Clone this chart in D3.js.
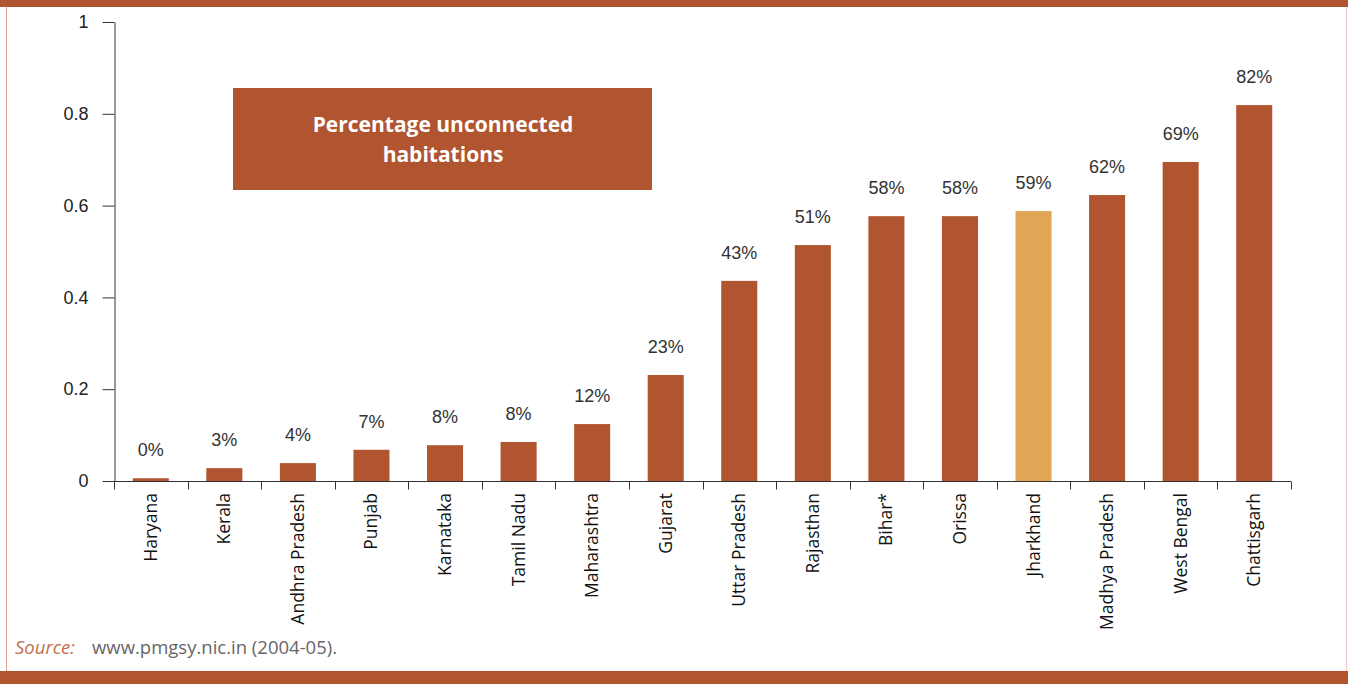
<!DOCTYPE html>
<html>
<head>
<meta charset="utf-8">
<script src="https://cdn.jsdelivr.net/npm/d3@7"></script>
<style>
  body { margin: 0; background: #fff; }
  svg { display: block; }
  .axis path, .axis line { stroke: #333; }
  .axis text { fill: #222; }
</style>
</head>
<body>
<script>
//chart data
var states = ["Haryana", "Kerala", "Andhra Pradesh", "Punjab", "Karnataka", "Tamil Nadu",
    "Maharashtra", "Gujarat", "Uttar Pradesh", "Rajasthan", "Bihar*", "Orissa",
    "Jharkhand", "Madhya Pradesh", "West Bengal", "Chattisgarh"];
var shares = [0.006, 0.028, 0.039, 0.068, 0.078, 0.085, 0.124, 0.231, 0.436, 0.514,
    0.577, 0.577, 0.588, 0.623, 0.695, 0.819];
var shareLabels = ["0%", "3%", "4%", "7%", "8%", "8%", "12%", "23%", "43%", "51%",
    "58%", "58%", "59%", "62%", "69%", "82%"];
var yTicks = [0, 0.2, 0.4, 0.6, 0.8, 1];
var highlight = "Jharkhand";

var w = 1348, h = 684;
var brown = "#B0552F", gold = "#E0A655";

var svg = d3.select("body")
    .append("svg")
    .attr("width", w)
    .attr("height", h);

//frame: top and bottom bands, thin side lines
svg.append("rect")
    .attr("x", 0).attr("y", 0)
    .attr("width", w).attr("height", 7)
    .style("fill", brown);
svg.append("rect")
    .attr("x", 0).attr("y", 671)
    .attr("width", w).attr("height", 13)
    .style("fill", brown);
svg.append("line")
    .attr("x1", 6.5).attr("x2", 6.5)
    .attr("y1", 7).attr("y2", 671)
    .style("stroke", "#E0A090");
svg.append("line")
    .attr("x1", 1346.5).attr("x2", 1346.5)
    .attr("y1", 7).attr("y2", 671)
    .style("stroke", "#F0C8C8");

//scales
var x = d3.scaleBand()
    .domain(states)
    .range([114, 1291])
    .paddingInner(0.51)
    .paddingOuter(0.255);

var y = d3.scaleLinear()
    .domain([0, 1])
    .range([481, 22]);

//y axis
var yAxis = svg.append("g")
    .attr("class", "axis")
    .attr("transform", "translate(114.5,0)")
    .call(d3.axisLeft(y).tickValues(yTicks).tickFormat(d3.format("")).tickSize(12).tickPadding(14).tickSizeOuter(0));
yAxis.selectAll("text")
    .style("font-family", "'Liberation Sans', Arial, sans-serif")
    .style("font-size", "18px");

//bars
svg.selectAll(".bar")
    .data(states)
    .enter()
    .append("rect")
    .attr("class", "bar")
    .attr("x", function(d){ return x(d); })
    .attr("width", x.bandwidth())
    .attr("y", function(d, i){ return y(shares[i]); })
    .attr("height", function(d, i){ return y(0) - y(shares[i]); })
    .style("fill", function(d){ return d === highlight ? gold : brown; });

//x axis with ticks between bands
var xAxis = svg.append("g")
    .attr("class", "axis")
    .attr("transform", "translate(0,481.5)");
xAxis.append("line")
    .attr("x1", 114).attr("x2", 1291)
    .style("stroke", "#333");
xAxis.selectAll(".xtick")
    .data(d3.range(states.length + 1))
    .enter()
    .append("line")
    .attr("class", "xtick")
    .attr("x1", function(d){ return Math.round(114 + d * (1291 - 114) / states.length) + 0.5; })
    .attr("x2", function(d){ return Math.round(114 + d * (1291 - 114) / states.length) + 0.5; })
    .attr("y1", 0).attr("y2", 8)
    .style("stroke", "#333");

//rotated category labels
svg.selectAll(".xlabel")
    .data(states)
    .enter()
    .append("text")
    .attr("class", "xlabel")
    .attr("transform", function(d){
        return "translate(" + (x(d) + x.bandwidth() / 2 + 6) + ",493) rotate(-90)";
    })
    .attr("text-anchor", "end")
    .style("font-family", "'Open Sans', sans-serif")
    .style("font-size", "17.5px")
    .style("fill", "#111")
    .text(function(d){ return d; });

//value labels
svg.selectAll(".vlabel")
    .data(states)
    .enter()
    .append("text")
    .attr("class", "vlabel")
    .attr("x", function(d){ return x(d) + x.bandwidth() / 2; })
    .attr("y", function(d, i){ return y(shares[i]) - 22; })
    .attr("text-anchor", "middle")
    .style("font-family", "'Liberation Sans', Arial, sans-serif")
    .style("font-size", "18px")
    .style("fill", "#333")
    .text(function(d, i){ return shareLabels[i]; });

//title box
svg.append("rect")
    .attr("x", 233).attr("y", 88)
    .attr("width", 419).attr("height", 102)
    .style("fill", brown);
var title = svg.append("text")
    .attr("text-anchor", "middle")
    .style("font-family", "'Open Sans', sans-serif")
    .style("font-weight", "bold")
    .style("font-size", "21px")
    .style("fill", "#fff");
title.append("tspan").attr("x", 443).attr("y", 132).text("Percentage unconnected");
title.append("tspan").attr("x", 443).attr("y", 162).text("habitations");

//source note
var source = svg.append("text")
    .attr("x", 15).attr("y", 654)
    .style("font-family", "'Open Sans', sans-serif")
    .style("font-size", "18.5px");
source.append("tspan")
    .style("font-style", "italic")
    .style("fill", "#C07050")
    .text("Source:");
source.append("tspan")
    .attr("x", 92)
    .style("fill", "#666")
    .text("www.pmgsy.nic.in (2004-05).");
</script>
</body>
</html>
